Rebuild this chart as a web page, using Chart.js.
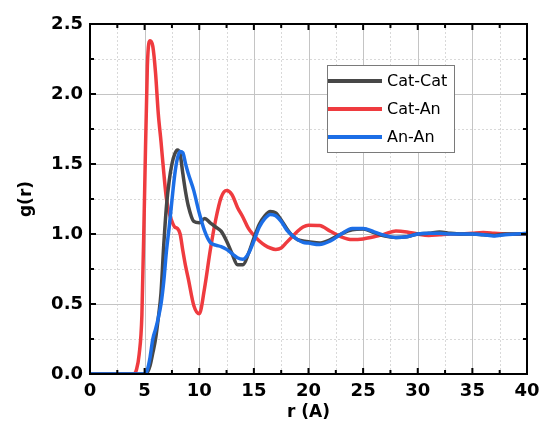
<!DOCTYPE html>
<html>
<head>
<meta charset="utf-8">
<script src="https://cdn.jsdelivr.net/npm/chart.js@4.4.1/dist/chart.umd.min.js"></script>
<style>
  html, body { margin: 0; padding: 0; background: #fff; }
  #wrap { width: 539px; height: 423px; }
</style>
</head>
<body>
<div id="wrap"><canvas id="rdfChart"></canvas></div>
<script>
// r values (Angstrom) shared by all three curves
const rValues = [0, 1, 2, 3, 3.5, 4, 4.25, 4.5, 4.75, 5, 5.25, 5.5, 5.75, 6, 6.25, 6.5, 6.75, 7, 7.25, 7.5, 7.75, 8, 8.25, 8.5, 8.75, 9, 9.5, 10, 10.5, 11, 11.5, 12, 12.5, 13, 13.5, 14, 14.5, 15, 15.5, 16, 16.5, 17, 17.5, 18, 18.5, 19, 19.5, 20, 21, 22, 23, 24, 25, 26, 27, 28, 29, 30, 31, 32, 33, 34, 35, 36, 37, 38, 39, 40];

const catCat = [0, 0, 0, 0, 0, 0, 0, 0, 0, 0, 0.01, 0.06, 0.15, 0.25, 0.4, 0.58, 0.92, 1.2, 1.38, 1.5, 1.57, 1.6, 1.57, 1.43, 1.3, 1.2, 1.09, 1.08, 1.11, 1.08, 1.05, 1.02, 0.95, 0.86, 0.78, 0.78, 0.86, 0.97, 1.07, 1.13, 1.16, 1.15, 1.1, 1.04, 0.99, 0.96, 0.95, 0.945, 0.935, 0.96, 1.0, 1.03, 1.035, 1.01, 0.985, 0.975, 0.98, 1.0, 1.005, 1.015, 1.005, 1.0, 1.0, 0.995, 0.99, 1.0, 1.0, 1.0];

const catAn = [0, 0, 0, 0, 0, 0, 0.03, 0.14, 0.42, 1.3, 2.2, 2.38, 2.34, 2.15, 1.86, 1.66, 1.44, 1.25, 1.15, 1.09, 1.05, 1.04, 1.0, 0.88, 0.77, 0.68, 0.49, 0.43, 0.62, 0.88, 1.1, 1.26, 1.31, 1.28, 1.19, 1.12, 1.04, 0.99, 0.95, 0.92, 0.9, 0.89, 0.9, 0.94, 0.98, 1.02, 1.05, 1.063, 1.06, 1.02, 0.98, 0.96, 0.965, 0.98, 1.0, 1.022, 1.015, 1.0, 0.99, 0.995, 1.0, 1.0, 1.005, 1.01, 1.005, 1.0, 0.998, 1.0];

const anAn = [0, 0, 0, 0, 0, 0, 0, 0, 0, 0, 0.03, 0.12, 0.25, 0.32, 0.4, 0.5, 0.66, 0.88, 1.05, 1.24, 1.42, 1.54, 1.59, 1.58, 1.5, 1.43, 1.31, 1.15, 1.02, 0.94, 0.92, 0.91, 0.89, 0.86, 0.83, 0.82, 0.86, 0.95, 1.05, 1.11, 1.14, 1.13, 1.09, 1.03, 0.99, 0.96, 0.94, 0.935, 0.925, 0.95, 1.0, 1.04, 1.04, 1.015, 0.99, 0.975, 0.98, 1.0, 1.005, 1.005, 1.0, 1.0, 1.0, 0.995, 0.985, 0.995, 1.0, 1.005];

const seriesNames = ["Cat-Cat", "Cat-An", "An-An"];
const seriesColors = ["#474747", "#ef3b3f", "#1c6ee6"];
const xTicks = [0, 5, 10, 15, 20, 25, 30, 35, 40];
const yTicks = [0, 0.5, 1.0, 1.5, 2.0, 2.5];

const toPoints = ys => rValues.map((r, i) => ({ x: r, y: ys[i] }));

// grid, frame, inward ticks and legend box
const framePlugin = {
    id: "frame",
    beforeDatasetsDraw(chart) {
        const { ctx, chartArea: a, scales: { x, y } } = chart;
        ctx.save();
        ctx.lineWidth = 1;
        // minor dotted grid
        ctx.strokeStyle = "#d9d9d9";
        ctx.setLineDash([2, 2]);
        for (let v = 2.5; v < 40; v += 5) {
            const px = Math.round(x.getPixelForValue(v)) + 0.5;
            ctx.beginPath(); ctx.moveTo(px, a.top); ctx.lineTo(px, a.bottom); ctx.stroke();
        }
        for (let v = 0.25; v < 2.5; v += 0.5) {
            const py = Math.round(y.getPixelForValue(v)) + 0.5;
            ctx.beginPath(); ctx.moveTo(a.left, py); ctx.lineTo(a.right, py); ctx.stroke();
        }
        // major solid grid
        ctx.setLineDash([]);
        ctx.strokeStyle = "#c4c4c4";
        xTicks.forEach(v => {
            const px = Math.round(x.getPixelForValue(v)) + 0.5;
            ctx.beginPath(); ctx.moveTo(px, a.top); ctx.lineTo(px, a.bottom); ctx.stroke();
        });
        yTicks.forEach(v => {
            const py = Math.round(y.getPixelForValue(v)) + 0.5;
            ctx.beginPath(); ctx.moveTo(a.left, py); ctx.lineTo(a.right, py); ctx.stroke();
        });
        ctx.restore();
    },
    afterDatasetsDraw(chart) {
        const { ctx, chartArea: a, scales: { x, y } } = chart;
        ctx.save();
        ctx.strokeStyle = "#000";
        ctx.lineWidth = 2;
        // inward ticks on all four sides
        for (let v = 0; v <= 40; v += 2.5) {
            const px = x.getPixelForValue(v);
            const len = v % 5 === 0 ? 6 : 4;
            ctx.beginPath();
            ctx.moveTo(px, a.bottom); ctx.lineTo(px, a.bottom - len);
            ctx.moveTo(px, a.top); ctx.lineTo(px, a.top + len);
            ctx.stroke();
        }
        for (let v = 0; v <= 2.5001; v += 0.25) {
            const py = y.getPixelForValue(v);
            const len = Math.abs(v * 2 - Math.round(v * 2)) < 0.01 ? 6 : 4;
            ctx.beginPath();
            ctx.moveTo(a.left, py); ctx.lineTo(a.left + len, py);
            ctx.moveTo(a.right, py); ctx.lineTo(a.right - len, py);
            ctx.stroke();
        }
        ctx.strokeRect(a.left, a.top, a.right - a.left, a.bottom - a.top);

        // legend
        const lx = 327, ly = 65, lw = 127, lh = 87;
        ctx.fillStyle = "#fff";
        ctx.fillRect(lx, ly, lw, lh);
        ctx.lineWidth = 1;
        ctx.strokeStyle = "#7a7a7a";
        ctx.strokeRect(lx + 0.5, ly + 0.5, lw, lh);
        ctx.font = "16px 'DejaVu Sans'";
        ctx.textBaseline = "middle";
        chart.data.datasets.forEach((ds, i) => {
            const rowY = ly + 16 + i * 28;
            ctx.strokeStyle = ds.borderColor;
            ctx.lineWidth = 4;
            ctx.beginPath(); ctx.moveTo(lx + 1, rowY); ctx.lineTo(lx + 55, rowY); ctx.stroke();
            ctx.fillStyle = "#000";
            ctx.fillText(ds.label, lx + 60, rowY + 1);
        });
        ctx.restore();
    }
};

const tickFont = { family: "'DejaVu Sans'", size: 18, weight: "bold" };

new Chart(document.getElementById("rdfChart"), {
    type: "line",
    data: {
        datasets: [
            { label: seriesNames[0], data: toPoints(catCat), borderColor: seriesColors[0], order: 2 },
            { label: seriesNames[1], data: toPoints(catAn), borderColor: seriesColors[1], order: 3 },
            { label: seriesNames[2], data: toPoints(anAn), borderColor: seriesColors[2], order: 1 }
        ]
    },
    options: {
        responsive: true,
        maintainAspectRatio: false,
        animation: false,
        layout: { padding: { left: 0, right: 12, top: 24, bottom: 0 } },
        elements: {
            line: { borderWidth: 3.5, cubicInterpolationMode: "monotone", fill: false },
            point: { radius: 0 }
        },
        plugins: { legend: { display: false }, tooltip: { enabled: false } },
        scales: {
            x: {
                type: "linear",
                min: 0, max: 40,
                afterFit: s => { s.height = 49; s.paddingLeft = 0; s.paddingRight = 0; },
                afterBuildTicks: s => { s.ticks = xTicks.map(v => ({ value: v })); },
                grid: { display: false, drawTicks: false },
                border: { display: false },
                ticks: { color: "#000", padding: 7, maxRotation: 0, font: tickFont },
                title: {
                    display: true, text: "r (A)", color: "#000",
                    padding: { top: 0, bottom: 0 },
                    font: { family: "'DejaVu Sans'", size: 17, weight: "bold" }
                }
            },
            y: {
                min: 0, max: 2.5,
                afterFit: s => { s.width = 90; s.paddingTop = 0; s.paddingBottom = 0; },
                afterBuildTicks: s => { s.ticks = yTicks.map(v => ({ value: v })); },
                grid: { display: false, drawTicks: false },
                border: { display: false },
                ticks: { color: "#000", padding: 7, callback: v => v.toFixed(1), font: tickFont },
                title: {
                    display: true, text: "g(r)", color: "#000",
                    padding: { top: 16, bottom: 0 },
                    font: { family: "'DejaVu Sans'", size: 17, weight: "bold" }
                }
            }
        }
    },
    plugins: [framePlugin]
});
</script>
</body>
</html>
